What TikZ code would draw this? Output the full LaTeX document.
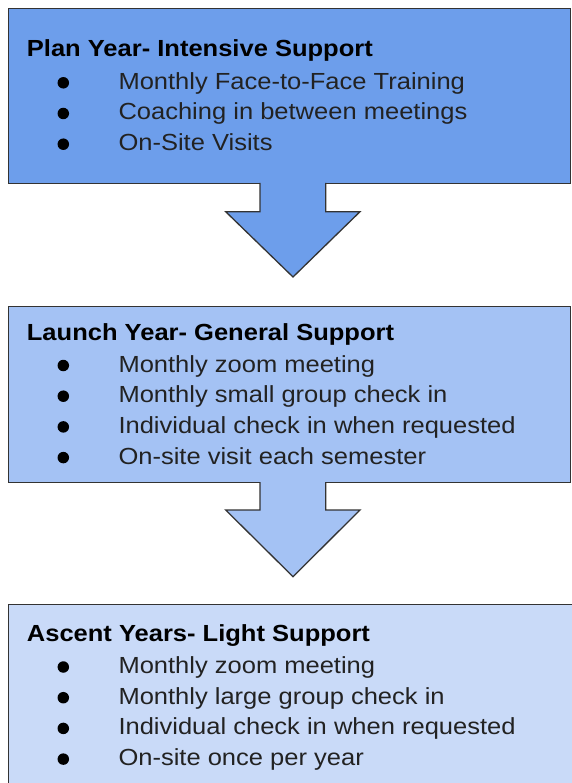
\documentclass[tikz,border=0pt]{standalone}
\usepackage{fontspec}
\setmainfont{Liberation Sans}[FakeStretch=1.095]
\definecolor{blueA}{HTML}{6D9EEB}
\definecolor{blueB}{HTML}{A4C2F4}
\definecolor{blueC}{HTML}{C9DAF8}
\definecolor{edgecol}{HTML}{333333}
\definecolor{itemcol}{HTML}{222222}
\begin{document}
\begin{tikzpicture}[x=1pt,y=-1pt,
  boxstyle/.style={draw=edgecol,line width=1.3pt,rectangle,inner sep=0pt,anchor=north west,minimum width=561.5pt},
  arrowline/.style={draw=edgecol,line width=1.3pt,line join=miter},
  ttl/.style={anchor=base west,inner sep=0pt,font=\fontsize{23.3}{28}\selectfont\bfseries,text=black},
  itm/.style={anchor=base west,inner sep=0pt,font=\fontsize{23.3}{28}\selectfont,text=itemcol},
  dot/.style={circle,fill=black,inner sep=0pt,minimum size=11.5pt}]
\useasboundingbox (0,0) rectangle (571,783);
\fill[white] (0,0) rectangle (571,783);

% boxes
\node[boxstyle,fill=blueA,minimum height=175pt] (b1) at (8,8) {};
\node[boxstyle,fill=blueB,minimum height=176pt] (b2) at (8,306) {};
\node[boxstyle,fill=blueC,minimum height=200pt,minimum width=570pt] (b3) at (8,604) {};

% block arrow 1
\fill[blueA] (260,182) -- (260,211.7) -- (225.7,211.7) -- (293,277) -- (360,211.7) -- (325.7,211.7) -- (325.7,182) -- cycle;
\draw[arrowline] (260,183) -- (260,211.7) -- (225.7,211.7) -- (293,277) -- (360,211.7) -- (325.7,211.7) -- (325.7,183);

% block arrow 2
\fill[blueB] (260,481) -- (260,510) -- (225.7,510) -- (293,576.7) -- (360,510) -- (325.7,510) -- (325.7,481) -- cycle;
\draw[arrowline] (260,482) -- (260,510) -- (225.7,510) -- (293,576.7) -- (360,510) -- (325.7,510) -- (325.7,482);

% box 1 text
\node[ttl] (t1) at (26.7,57) {Plan Year- Intensive Support};
\node[dot] (d11) at (63.3,82.8) {};
\node[itm] (i11) at (118.3,89.3) {Monthly Face-to-Face Training};
\node[dot] (d12) at (63.3,113.5) {};
\node[itm] (i12) at (118.3,120) {Coaching in between meetings};
\node[dot] (d13) at (63.3,144.2) {};
\node[itm] (i13) at (118.3,150.7) {On-Site Visits};

% box 2 text
\node[ttl] (t2) at (26.7,340) {Launch Year- General Support};
\node[dot] (d21) at (63.3,365.5) {};
\node[itm] (i21) at (118.3,372) {Monthly zoom meeting};
\node[dot] (d22) at (63.3,396.2) {};
\node[itm] (i22) at (118.3,402.7) {Monthly small group check in};
\node[dot] (d23) at (63.3,426.9) {};
\node[itm] (i23) at (118.3,433.4) {Individual check in when requested};
\node[dot] (d24) at (63.3,457.6) {};
\node[itm] (i24) at (118.3,464.1) {On-site visit each semester};

% box 3 text
\node[ttl] (t3) at (26.7,641.5) {Ascent Years- Light Support};
\node[dot] (d31) at (63.3,667) {};
\node[itm] (i31) at (118.3,673.5) {Monthly zoom meeting};
\node[dot] (d32) at (63.3,697.7) {};
\node[itm] (i32) at (118.3,704.2) {Monthly large group check in};
\node[dot] (d33) at (63.3,728.4) {};
\node[itm] (i33) at (118.3,734.9) {Individual check in when requested};
\node[dot] (d34) at (63.3,759.1) {};
\node[itm] (i34) at (118.3,765.6) {On-site once per year};
\end{tikzpicture}
\end{document}
